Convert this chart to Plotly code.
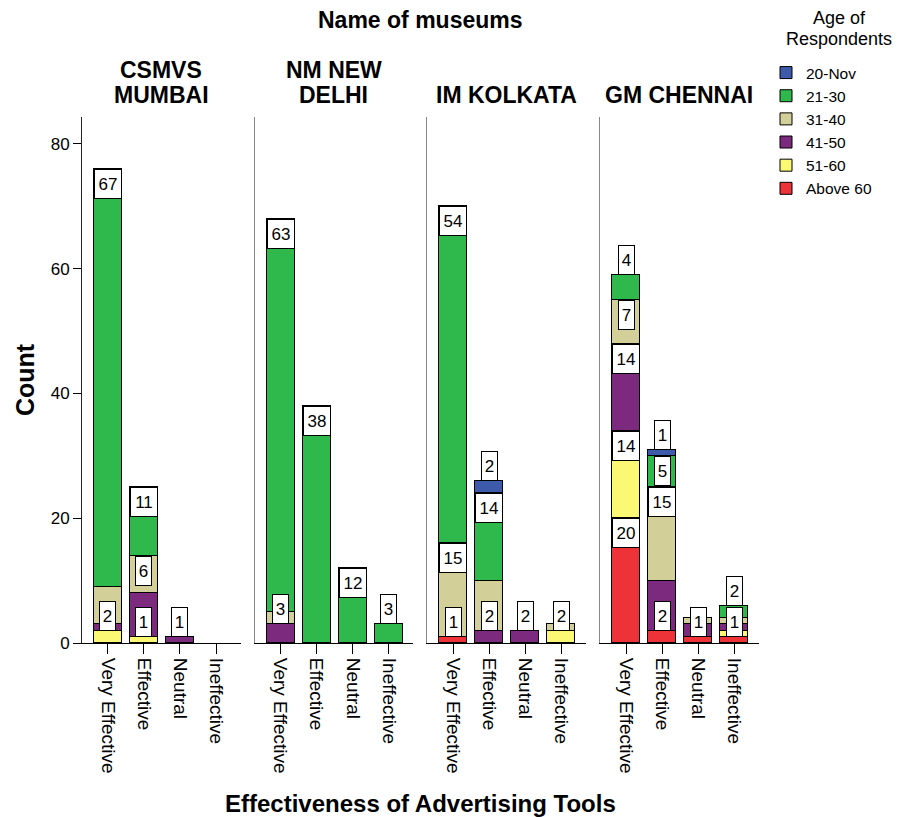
import plotly.graph_objects as go

# ---------------- data ----------------
categories = ["Very Effective", "Effective", "Neutral", "Ineffective"]
museums = ["CSMVS<br>MUMBAI", "NM NEW<br>DELHI", "IM KOLKATA", "GM CHENNAI"]

# stacking order bottom -> top
age_groups = ["Above 60", "51-60", "41-50", "31-40", "21-30", "20-Nov"]
age_colors = ["#EE3338", "#FBF874", "#7B2A7E", "#D3CF98", "#2FB84C", "#3D5BAA"]

# each list: per museum, counts for [Very Effective, Effective, Neutral, Ineffective]
above_60 = [[0, 0, 0, 0], [0, 0, 0, 0], [1, 0, 0, 0], [20, 2, 1, 1]]
age_51_60 = [[2, 1, 0, 0], [0, 0, 0, 0], [0, 0, 0, 2], [14, 0, 0, 1]]
age_41_50 = [[1, 7, 1, 0], [3, 0, 0, 0], [0, 2, 2, 0], [14, 8, 2, 1]]
age_31_40 = [[6, 6, 0, 0], [2, 0, 0, 0], [15, 8, 0, 1], [7, 15, 1, 1]]
age_21_30 = [[67, 11, 0, 0], [63, 38, 12, 3], [54, 14, 0, 0], [4, 5, 0, 2]]
age_20_nov = [[0, 0, 0, 0], [0, 0, 0, 0], [0, 2, 0, 0], [0, 1, 0, 0]]

series = [above_60, age_51_60, age_41_50, age_31_40, age_21_30, age_20_nov]

y_ticks = [0, 20, 40, 60, 80]

# ---------------- layout geometry ----------------
FONT = "Liberation Sans, Arial, sans-serif"
OFF = 8                      # page body margin
W, H = 907 - OFF, 817 - OFF
P_L, P_R, P_T, P_B = 82, 759, 117, 643   # plot area in screen pixels
M_L, M_T = P_L - OFF, P_T - OFF
M_R, M_B = W - (P_R - OFF), H - (P_B - OFF)
plot_w = P_R - P_L
plot_h = P_B - P_T
y_max = 84.3
px_per_unit = plot_h / y_max
box_px = 30
box_units = box_px / px_per_unit

panel_step = 172.7
panel_w = 158.5
x_range = [-0.72, 3.68]
bar_w = 0.78

fig = go.Figure()

def ax_id(i):
    return "" if i == 0 else str(i + 1)

for m in range(len(museums)):
    for g, name in enumerate(age_groups):
        vals = [v if v != 0 else None for v in series[g][m]]
        fig.add_trace(go.Bar(
            x=list(range(len(categories))), y=vals, name=name,
            marker=dict(color=age_colors[g], line=dict(color="black", width=1)),
            width=bar_w, legendgroup=name, showlegend=(m == 0),
            xaxis="x" + ax_id(m), yaxis="y" + ax_id(m),
            hovertemplate=name + ": %{y}<extra></extra>",
        ))

annotations = []
# value labels (SPSS-like placement, hidden when overlapping)
for m in range(len(museums)):
    for c in range(len(categories)):
        base = 0.0
        placed = []
        for g in range(len(age_groups)):
            v = series[g][m][c]
            if v == 0:
                continue
            top = base + v
            base = top
            if v >= box_units - 1e-6:
                lo, hi, anchor = top - box_units, top, "top"
            else:
                lo, hi, anchor = top, top + box_units, "bottom"
            if any(lo < p_hi - 0.05 and hi > p_lo + 0.05 for p_lo, p_hi in placed):
                continue
            placed.append((lo, hi))
            txt = str(v)
            annotations.append(dict(
                x=c, y=top, xref="x" + ax_id(m), yref="y",
                text=txt, showarrow=False, yanchor=anchor, xanchor="center",
                font=dict(family=FONT, size=17, color="black"),
                bgcolor="white", bordercolor="black", borderwidth=1, borderpad=1,
                width=(24 if len(txt) > 1 else 13), height=26,
            ))

def py(pixel):
    return (P_B - pixel) / plot_h

def px(pixel):
    return (pixel - P_L) / plot_w

# panel titles (one annotation per line, bottom line aligned)
for m, title in enumerate(museums):
    cx = (m * panel_step + panel_w / 2) / plot_w
    lines = title.split("<br>")
    for k, line in enumerate(reversed(lines)):
        annotations.append(dict(
            x=cx, y=py(95 - 25 * k), xref="paper", yref="paper", text="<b>" + line + "</b>",
            showarrow=False, xanchor="center", yanchor="middle",
            font=dict(family=FONT, size=23, color="black"),
        ))

annotations.append(dict(x=0.5, y=py(20), xref="paper", yref="paper",
                        text="<b>Name of museums</b>", showarrow=False,
                        xanchor="center", yanchor="middle",
                        font=dict(family=FONT, size=23, color="black")))
annotations.append(dict(x=0.5, y=py(803), xref="paper", yref="paper",
                        text="<b>Effectiveness of Advertising Tools</b>", showarrow=False,
                        xanchor="center", yanchor="middle",
                        font=dict(family=FONT, size=24, color="black")))
annotations.append(dict(x=px(25), y=py(380), xref="paper", yref="paper",
                        text="<b>Count</b>", showarrow=False, textangle=-90,
                        xanchor="center", yanchor="middle",
                        font=dict(family=FONT, size=25, color="black")))
# legend heading
for k, line in enumerate(["Age of", "Respondents"]):
    annotations.append(dict(x=px(839), y=py(18 + 21 * k), xref="paper", yref="paper",
                            text=line, showarrow=False,
                            xanchor="center", yanchor="middle",
                            font=dict(family=FONT, size=18, color="black")))

layout = dict(
    width=W, height=H,
    margin=dict(l=M_L, r=M_R, t=M_T, b=M_B, autoexpand=False),
    paper_bgcolor="white", plot_bgcolor="white",
    barmode="stack", bargap=0,
    font=dict(family=FONT, size=16, color="black"),
    annotations=annotations,
    legend=dict(
        traceorder="reversed", x=px(766), y=py(56), xanchor="left", yanchor="top",
        font=dict(family=FONT, size=15.5, color="black"),
        tracegroupgap=0, bgcolor="rgba(0,0,0,0)",
    ),
)

for m in range(len(museums)):
    d0 = m * panel_step / plot_w
    d1 = (m * panel_step + panel_w) / plot_w
    layout["xaxis" + ax_id(m)] = dict(
        domain=[d0, min(d1, 1.0)], range=x_range, anchor="y" + ax_id(m),
        tickmode="array", tickvals=list(range(len(categories))), ticktext=categories,
        tickangle=90, ticks="outside", ticklen=10, tickcolor="black",
        showline=True, linecolor="black", linewidth=1,
        showgrid=False, zeroline=False, fixedrange=True, automargin=False,
        tickfont=dict(family=FONT, size=19, color="black"),
    )
    yax = dict(
        range=[0, y_max], anchor="x" + ax_id(m), showgrid=False, zeroline=False,
        showline=True, linewidth=1, automargin=False,
    )
    if m == 0:
        yax.update(tickmode="array", tickvals=y_ticks, ticks="outside", ticklen=8,
                   tickcolor="black", linecolor="#222222",
                   tickfont=dict(family=FONT, size=17, color="black"))
    else:
        yax.update(matches="y", showticklabels=False, ticks="", linecolor="#888888")
    layout["yaxis" + ax_id(m)] = yax

fig.update_layout(**layout)
fig.write_html("out.html")
